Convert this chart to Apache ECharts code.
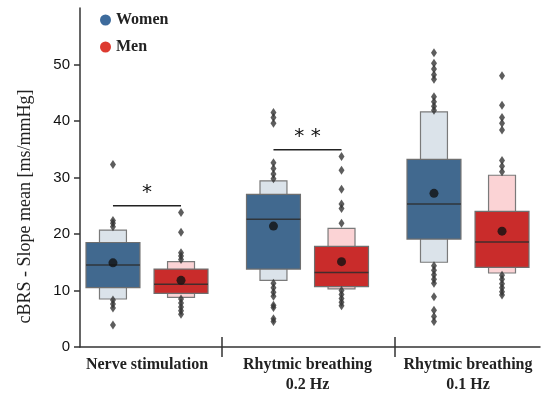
<!DOCTYPE html>
<html>
<head>
<meta charset="utf-8">
<script src="https://cdn.jsdelivr.net/npm/echarts@6/dist/echarts.min.js"></script>
<style>html,body{margin:0;padding:0;background:#fff;}#c{width:550px;height:395px;}</style>
</head>
<body>
<div id="c"></div>
<script>
// ---- data ----
const categories = ['Nerve stimulation', 'Rhytmic breathing\n0.2 Hz', 'Rhytmic breathing\n0.1 Hz'];
const yTicks = [0, 10, 20, 30, 40, 50];

const womenLow2 = [8.5, 11.8, 15.0];
const womenQ1 = [10.5, 13.8, 19.1];
const womenMedian = [14.5, 22.6, 25.3];
const womenQ3 = [18.5, 27.0, 33.2];
const womenHigh2 = [20.7, 29.4, 41.6];
const womenMean = [14.9, 21.4, 27.2];
const womenOutliers = [
  [32.3, 22.4, 21.9, 21.3, 8.3, 7.6, 6.9, 3.9],
  [41.5, 40.6, 39.6, 32.6, 31.6, 30.6, 29.8, 11.3, 10.5, 9.7, 9.0, 7.4, 7.0, 5.0, 4.5],
  [52.1, 50.2, 49.2, 48.2, 47.4, 44.3, 43.4, 42.6, 41.9, 14.4, 13.6, 12.8, 12.0, 11.3, 8.9, 6.5, 5.4, 4.5]
];

const menLow2 = [8.8, 10.3, 13.1];
const menQ1 = [9.5, 10.7, 14.1];
const menMedian = [11.1, 13.2, 18.6];
const menQ3 = [13.8, 17.8, 24.0];
const menHigh2 = [15.1, 21.0, 30.4];
const menMean = [11.8, 15.1, 20.5];
const menOutliers = [
  [23.8, 20.3, 16.7, 16.1, 15.5, 8.5, 7.8, 7.1, 6.4, 5.8],
  [33.7, 31.3, 27.9, 25.3, 24.5, 21.9, 10.0, 9.3, 8.6, 7.9, 7.3],
  [48.0, 42.8, 40.6, 39.6, 38.4, 33.0, 32.0, 31.0, 12.7, 12.0, 11.2, 10.5, 9.8, 9.2]
];

const sigGroups = [0, 1];
const sigHeights = [25.0, 34.9];
const sigLabels = ['*', '* *'];

// ---- layout constants ----
const OFF = 0.212;      // offset of each gender from category centre (axis units)
const HALF_DARK = 0.168;
const HALF_LIGHT = 0.084;
const separators = [0.467, 1.545];

function boxRender(offset, dark, light) {
  return function (params, api) {
    const x = api.value(0) + offset;
    const l2 = api.value(1), q1 = api.value(2), med = api.value(3), q3 = api.value(4), h2 = api.value(5);
    const a = api.coord([x - HALF_LIGHT, h2]);
    const b = api.coord([x + HALF_LIGHT, l2]);
    const c = api.coord([x - HALF_DARK, q3]);
    const d = api.coord([x + HALF_DARK, q1]);
    const m = api.coord([x, med]);
    return {
      type: 'group',
      children: [
        { type: 'rect', shape: { x: a[0], y: a[1], width: b[0] - a[0], height: b[1] - a[1] },
          style: { fill: light, stroke: '#7a7a7a', lineWidth: 1.2 } },
        { type: 'rect', shape: { x: c[0], y: c[1], width: d[0] - c[0], height: d[1] - c[1] },
          style: { fill: dark, stroke: '#6f6f6f', lineWidth: 1.2 } },
        { type: 'line', shape: { x1: c[0], y1: m[1], x2: d[0], y2: m[1] },
          style: { stroke: 'rgba(45,45,45,0.85)', lineWidth: 1.5 } }
      ]
    };
  };
}

function boxData(l2, q1, med, q3, h2) {
  return categories.map((_, i) => [i, l2[i], q1[i], med[i], q3[i], h2[i]]);
}
function meanData(arr, offset) {
  return arr.map((v, i) => [i + offset, v]);
}
function outlierData(arr, offset) {
  const out = [];
  arr.forEach((list, i) => list.forEach(v => out.push([i + offset, v])));
  return out;
}

const chart = echarts.init(document.getElementById('c'), null, { renderer: 'canvas' });
const xCommon = { type: 'value', min: -0.4174, max: 2.4486, splitLine: { show: false }, position: 'bottom' };
const option = {
  backgroundColor: '#ffffff',
  animation: false,
  grid: { left: 80, right: 10, top: 8, bottom: 48 },
  legend: {
    orient: 'vertical', left: 95, top: 7, itemGap: 11,
    icon: 'circle', itemWidth: 11, itemHeight: 11,
    textStyle: { fontFamily: 'Liberation Serif', fontWeight: 'bold', fontSize: 16, color: '#222' },
    data: [
      { name: 'Women', itemStyle: { color: '#3d6b9c' } },
      { name: 'Men', itemStyle: { color: '#dd3a30' } }
    ]
  },
  xAxis: [
    Object.assign({}, xCommon, {
      axisLine: { show: true, onZero: false, lineStyle: { color: '#333', width: 1.5 } },
      axisTick: { show: true, length: 10, lineStyle: { color: '#333', width: 1.5 }, customValues: separators },
      axisLabel: {
        show: true, customValues: [0, 1, 2], margin: 8,
        formatter: v => categories[Math.round(v)],
        fontFamily: 'Liberation Serif', fontWeight: 'bold', fontSize: 16, color: '#222', lineHeight: 20
      }
    }),
    Object.assign({}, xCommon, {
      axisLine: { show: false, onZero: false },
      axisTick: { show: true, inside: true, length: 10, lineStyle: { color: '#333', width: 1.5 }, customValues: separators },
      axisLabel: { show: false }
    })
  ],
  yAxis: {
    type: 'value', min: 0, max: 60, interval: 10,
    splitLine: { show: false },
    axisLine: { show: true, onZero: false, lineStyle: { color: '#333', width: 1.5 } },
    axisTick: { show: true, length: 6, lineStyle: { color: '#333', width: 1.5 }, customValues: yTicks },
    axisLabel: { customValues: yTicks, fontFamily: 'Liberation Sans', fontSize: 15, color: '#111', margin: 10 },
    name: 'cBRS - Slope mean [ms/mmHg]',
    nameLocation: 'middle', nameGap: 46,
    nameTextStyle: { fontFamily: 'Liberation Serif', fontSize: 18, color: '#222', padding: [0, 58, 0, 0] }
  },
  series: [
    { name: 'Women', type: 'custom', renderItem: boxRender(-OFF, '#41698f', '#dbe3ea'),
      data: boxData(womenLow2, womenQ1, womenMedian, womenQ3, womenHigh2), z: 2,
      itemStyle: { color: '#3d6b9c' } },
    { name: 'Men', type: 'custom', renderItem: boxRender(OFF, '#c92c2b', '#fbd3d5'),
      data: boxData(menLow2, menQ1, menMedian, menQ3, menHigh2), z: 2,
      itemStyle: { color: '#dd3a30' } },
    { name: 'Women outliers', type: 'scatter', symbol: 'diamond', symbolSize: [6, 9],
      itemStyle: { color: '#353535' }, data: outlierData(womenOutliers, -OFF), z: 3 },
    { name: 'Men outliers', type: 'scatter', symbol: 'diamond', symbolSize: [6, 9],
      itemStyle: { color: '#353535' }, data: outlierData(menOutliers, OFF), z: 3 },
    { name: 'Women mean', type: 'scatter', symbol: 'circle', symbolSize: 9,
      itemStyle: { color: '#111' }, data: meanData(womenMean, -OFF), z: 4 },
    { name: 'Men mean', type: 'scatter', symbol: 'circle', symbolSize: 9,
      itemStyle: { color: '#111' }, data: meanData(menMean, OFF), z: 4 },
    { name: 'Significance', type: 'custom', z: 5,
      data: sigGroups.map((g, i) => [g, sigHeights[i], sigLabels[i]]),
      renderItem: function (params, api) {
        const g = api.value(0), h = api.value(1);
        const p1 = api.coord([g - OFF, h]);
        const p2 = api.coord([g + OFF, h]);
        const label = sigLabels[params.dataIndex];
        return {
          type: 'group',
          children: [
            { type: 'line', shape: { x1: p1[0], y1: p1[1], x2: p2[0], y2: p2[1] },
              style: { stroke: '#222', lineWidth: 1.6 } },
            { type: 'text', x: (p1[0] + p2[0]) / 2, y: p1[1] - 13,
              style: { text: label, fontFamily: 'DejaVu Sans', fontSize: 20, fill: '#111',
                       align: 'center', verticalAlign: 'middle' } }
          ]
        };
      }
    }
  ]
};
chart.setOption(option);
</script>
</body>
</html>
